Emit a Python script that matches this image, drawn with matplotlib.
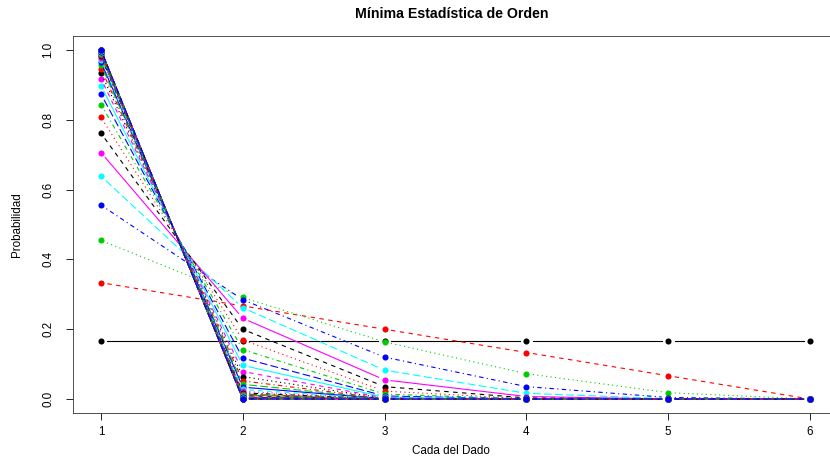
import numpy as np
import matplotlib
matplotlib.use('Agg')
import matplotlib.pyplot as plt

plt.rcParams['font.family'] = ['Liberation Sans', 'DejaVu Sans']

# cara del dado (eje x)
caras = [1, 2, 3, 4, 5, 6]

# probabilidad del minimo, una lista por cara; cada posicion es una serie (n = 1..40)
pCara1 = [0.1667, 0.3333, 0.4545, 0.5556, 0.6384, 0.7062, 0.7616, 0.8069, 0.8437, 0.8737,
          0.8980, 0.9178, 0.9338, 0.9467, 0.9572, 0.9656, 0.9724, 0.9778, 0.9822, 0.9857,
          0.9886, 0.9908, 0.9927, 0.9941, 0.9953, 0.9962, 0.9970, 0.9976, 0.9981, 0.9985,
          0.9988, 0.9990, 0.9992, 0.9994, 0.9995, 0.9996, 0.9997, 0.9997, 0.9998, 0.9998]
pCara2 = [0.1667, 0.2667, 0.2909, 0.2844, 0.2615, 0.2314, 0.1997, 0.1692, 0.1416, 0.1173,
          0.0964, 0.0788, 0.0642, 0.0520, 0.0421, 0.0340, 0.0274, 0.0220, 0.0177, 0.0142,
          0.0114, 0.0091, 0.0073, 0.0059, 0.0047, 0.0038, 0.0030, 0.0024, 0.0019, 0.0015,
          0.0012, 0.0010, 0.0008, 0.0006, 0.0005, 0.0004, 0.0003, 0.0003, 0.0002, 0.0002]
pCara3 = [0.1667, 0.2000, 0.1636, 0.1200, 0.0827, 0.0549, 0.0355, 0.0226, 0.0142, 0.0088,
          0.0054, 0.0033, 0.0020, 0.0012, 0.0008, 0.0005, 0.0003, 0.0002, 0.0001, 0.0001,
          0, 0, 0, 0, 0, 0, 0, 0, 0, 0,
          0, 0, 0, 0, 0, 0, 0, 0, 0, 0]
pCara4 = [0.1667, 0.1333, 0.0727, 0.0356, 0.0163, 0.0072, 0.0031, 0.0013, 0.0006, 0.0002,
          0.0001, 0, 0, 0, 0, 0, 0, 0, 0, 0,
          0, 0, 0, 0, 0, 0, 0, 0, 0, 0,
          0, 0, 0, 0, 0, 0, 0, 0, 0, 0]
pCara5 = [0.1667, 0.0667, 0.0182, 0.0044, 0.0010, 0.0002, 0, 0, 0, 0,
          0, 0, 0, 0, 0, 0, 0, 0, 0, 0,
          0, 0, 0, 0, 0, 0, 0, 0, 0, 0,
          0, 0, 0, 0, 0, 0, 0, 0, 0, 0]
pCara6 = [0.1667, 0, 0, 0, 0, 0, 0, 0, 0, 0,
          0, 0, 0, 0, 0, 0, 0, 0, 0, 0,
          0, 0, 0, 0, 0, 0, 0, 0, 0, 0,
          0, 0, 0, 0, 0, 0, 0, 0, 0, 0]

# paleta y tipos de linea estilo matplot de R
colores = ['black', '#FF0000', '#00CD00', '#0000FF', '#00FFFF', '#FF00FF']
estilos = ['-', (0, (4, 4)), (0, (1, 3)), (0, (1, 3, 4, 3)), (0, (7, 3))]

W, H, DPI = 830, 461, 100
GAP = 6.5  # pixeles sin linea alrededor de cada punto (type = "b")


def cortarSegmentos(ax, xs, ys, gap):
	"""Devuelve x, y con huecos alrededor de cada punto (separados por NaN)."""
	pts = ax.transData.transform(np.column_stack([xs, ys]))
	inv = ax.transData.inverted()
	out = []
	for i in range(len(pts) - 1):
		p0, p1 = pts[i], pts[i + 1]
		d = p1 - p0
		L = np.hypot(d[0], d[1])
		if L <= 2 * gap:
			continue
		u = d / L
		a = inv.transform(p0 + gap * u)
		b = inv.transform(p1 - gap * u)
		out.append(a)
		out.append(b)
		out.append([np.nan, np.nan])
	if not out:
		return [], []
	out = np.array(out)
	return out[:, 0], out[:, 1]


fig = plt.figure(figsize=(W / DPI, H / DPI), dpi=DPI)
left, right, top, bottom = 72.6, 838.4, 36.0, 413.0
ax = fig.add_axes([left / W, 1 - bottom / H, (right - left) / W, (bottom - top) / H])
ax.set_xlim(0.8, 6.2)
ax.set_ylim(-0.04, 1.04)

M = np.array([pCara1, pCara2, pCara3, pCara4, pCara5, pCara6])  # 6 x nSeries
nSeries = M.shape[1]

for j in range(nSeries):
	col = colores[j % 6]
	ls = estilos[j % 5]
	yy = M[:, j]
	sx, sy = cortarSegmentos(ax, caras, yy, GAP)
	ax.plot(sx, sy, color=col, linestyle=ls, linewidth=0.8, zorder=2 + 2 * j)
	ax.plot(caras, yy, 'o', color=col, markersize=4.4, markeredgewidth=0, zorder=3 + 2 * j)

for s in ['top', 'right', 'left', 'bottom']:
	ax.spines[s].set_linewidth(0.6)
	ax.spines[s].set_color('#333333')

ax.set_xticks(caras)
ax.set_yticks([0.0, 0.2, 0.4, 0.6, 0.8, 1.0])
ax.set_yticklabels(['0.0', '0.2', '0.4', '0.6', '0.8', '1.0'])
ax.tick_params(axis='both', direction='out', length=5, width=0.6, labelsize=8.4)
ax.tick_params(axis='x', pad=4)
ax.tick_params(axis='y', pad=8)
for lab in ax.get_yticklabels():
	lab.set_rotation(90)
	lab.set_va('center')

fig.text(452 / W, 1 - 14 / H, 'Mínima Estadística de Orden', ha='center', va='center',
	fontsize=10.2, fontweight='bold')
fig.text(451 / W, 1 - 451 / H, 'Cada del Dado', ha='center', va='center', fontsize=8.4)
fig.text(17 / W, 1 - 224.5 / H, 'Probabilidad', ha='center', va='center', rotation=90, fontsize=8.4)

fig.savefig('out.png', dpi=DPI)
